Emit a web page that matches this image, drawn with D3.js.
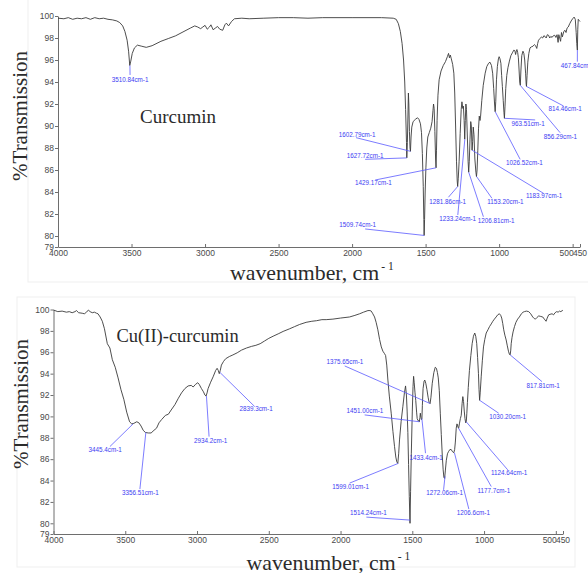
<!DOCTYPE html>
<html>
<head>
<meta charset="utf-8">
<script src="https://cdn.jsdelivr.net/npm/d3@7"></script>
<style>
  body { margin: 0; background: #fff; }
  svg { display: block; }
  .axis { color: #6e6e6e; }
  .axis .tick text { font-family: Arial, "Liberation Sans", sans-serif; font-size: 8.5px; fill: #4a4a4a; }
  .serif { font-family: "Liberation Serif", "Times New Roman", serif; fill: #2b2b2b; }
  .peak text { font-family: Arial, "Liberation Sans", sans-serif; font-size: 6.3px; fill: #3d3df2; }
</style>
</head>
<body>
<svg id="chart" width="588" height="573"></svg>
<script>
var xTicks = [4000, 3500, 3000, 2500, 2000, 1500, 1000, 500, 450];
var yTicks = [100, 98, 96, 94, 92, 90, 88, 86, 84, 82, 80, 79];

// [wavenumber, %T]
var curcuminSpectrum = [
  [4000, 99.8], [3960, 99.75], [3930, 99.85], [3900, 99.7], [3870, 99.8], [3840, 99.75],
  [3810, 99.85], [3780, 99.7], [3750, 99.85], [3720, 99.75], [3690, 99.8], [3660, 99.7],
  [3630, 99.65], [3600, 99.55], [3580, 99.4], [3560, 99.1], [3545, 98.6], [3530, 97.8],
  [3520, 96.8], [3512, 95.5], [3505, 95.9], [3495, 96.6], [3480, 97.1], [3460, 97.35],
  [3430, 97.25], [3400, 97.15], [3360, 97.3], [3300, 97.7], [3250, 97.95], [3200, 98.2],
  [3150, 98.55], [3100, 98.9], [3070, 99.1], [3050, 99.0], [3030, 98.85], [3015, 99.0],
  [3000, 99.15], [2985, 98.8], [2970, 99.0], [2960, 99.2], [2945, 98.75], [2930, 98.9],
  [2915, 99.05], [2900, 98.8], [2880, 98.7], [2865, 99.2], [2855, 99.35], [2840, 99.1],
  [2820, 99.5], [2800, 99.75], [2750, 99.8], [2700, 99.75], [2600, 99.8], [2500, 99.85],
  [2400, 99.85], [2300, 99.8], [2200, 99.85], [2000, 99.85], [1800, 99.85], [1720, 99.8],
  [1700, 99.7], [1685, 99.3], [1672, 98.6], [1660, 97.5], [1650, 96.0], [1642, 94.0],
  [1636, 91.5], [1630, 88.5], [1628, 87.1], [1624, 88.5], [1620, 91.0], [1617, 93.0],
  [1614, 92.0], [1610, 89.5], [1606, 88.0], [1603, 87.7], [1599, 89.0], [1594, 89.9],
  [1585, 90.4], [1570, 90.6], [1555, 90.75], [1545, 90.6], [1535, 90.2], [1528, 89.4],
  [1522, 87.5], [1516, 84.5], [1512, 81.5], [1510, 80.05], [1507, 81.5], [1503, 84.0],
  [1498, 86.2], [1492, 88.0], [1485, 89.0], [1475, 89.4], [1465, 89.8], [1456, 90.4],
  [1450, 91.4], [1446, 92.0], [1442, 91.6], [1437, 89.5], [1432, 87.0], [1429, 86.2],
  [1426, 87.8], [1422, 90.5], [1416, 92.8], [1408, 94.2], [1395, 95.0], [1380, 95.5],
  [1365, 95.85], [1352, 96.3], [1344, 96.6], [1338, 96.2], [1332, 96.45], [1325, 96.1],
  [1316, 95.6], [1308, 94.8], [1302, 93.0], [1296, 90.0], [1290, 86.8], [1285, 85.0],
  [1282, 84.5], [1278, 85.2], [1272, 86.8], [1265, 89.3], [1258, 91.5], [1253, 92.2],
  [1247, 91.6], [1243, 91.8], [1238, 90.5], [1234, 88.8], [1230, 90.5], [1226, 92.0],
  [1222, 91.5], [1216, 89.0], [1211, 86.8], [1207, 85.8], [1203, 86.8], [1198, 88.8],
  [1193, 90.4], [1189, 90.0], [1184, 87.8], [1180, 88.6], [1176, 89.9], [1171, 89.2],
  [1165, 87.0], [1158, 85.8], [1154, 85.4], [1150, 86.0], [1145, 87.8], [1140, 89.8],
  [1135, 90.9], [1130, 90.5], [1126, 90.9], [1118, 92.3], [1108, 93.7], [1095, 94.8],
  [1084, 95.4], [1072, 95.7], [1062, 95.8], [1052, 95.5], [1044, 94.8], [1037, 93.4],
  [1031, 92.0], [1027, 91.3], [1023, 92.2], [1018, 94.2], [1012, 95.4], [1005, 96.1],
  [1000, 96.3], [994, 96.1], [988, 95.7], [983, 94.6], [978, 93.6], [972, 92.3],
  [967, 91.2], [964, 90.7], [960, 91.8], [955, 93.4], [948, 94.6], [940, 95.3],
  [930, 95.9], [920, 96.4], [910, 96.65], [900, 96.9], [893, 96.85], [888, 96.5],
  [884, 96.75], [879, 96.95], [874, 96.7], [869, 96.2], [864, 95.0], [860, 94.0],
  [856, 93.7], [852, 95.0], [846, 96.4], [838, 96.8], [832, 96.6], [826, 96.0],
  [820, 94.8], [816, 93.8], [814, 93.6], [810, 94.6], [805, 95.8], [798, 96.6],
  [790, 97.1], [780, 97.2], [770, 97.25], [760, 97.4], [752, 97.3], [744, 97.05],
  [738, 97.5], [732, 97.8], [722, 97.95], [712, 98.1], [704, 98.0], [696, 98.2],
  [688, 98.15], [680, 98.0], [672, 98.3], [664, 98.25], [656, 98.0], [648, 98.15],
  [640, 98.05], [632, 98.2], [622, 98.25], [614, 98.05], [606, 98.3], [599, 97.6],
  [594, 98.3], [588, 98.0], [582, 97.7], [576, 98.5], [570, 98.1], [560, 98.6],
  [552, 98.7], [545, 98.5], [538, 98.9], [530, 99.0], [520, 99.3], [510, 99.55],
  [500, 99.75], [490, 99.9], [482, 99.7], [476, 98.5], [472, 97.5], [468, 96.9],
  [465, 98.8], [462, 99.7], [456, 99.6], [450, 99.5]
];

var copperSpectrum = [
  [4000, 99.95], [3970, 99.8], [3940, 99.85], [3910, 99.75], [3890, 99.8], [3870, 99.7],
  [3850, 99.8], [3840, 99.9], [3825, 99.7], [3800, 99.65], [3785, 99.6], [3770, 99.75],
  [3757, 99.95], [3745, 99.8], [3730, 99.7], [3715, 99.75], [3700, 99.65], [3690, 99.6],
  [3675, 99.3], [3660, 98.9], [3645, 98.2], [3625, 96.8], [3607, 96.4], [3590, 95.3],
  [3570, 94.6], [3550, 93.6], [3530, 92.5], [3510, 91.6], [3490, 90.4], [3470, 89.5],
  [3455, 89.3], [3440, 89.35], [3420, 89.5], [3405, 89.4], [3390, 89.1], [3375, 88.7],
  [3360, 88.5], [3340, 88.45], [3320, 88.45], [3300, 88.7], [3282, 88.9], [3265, 89.4],
  [3247, 89.7], [3220, 90.1], [3200, 90.2], [3180, 90.6], [3154, 91.1], [3130, 91.7],
  [3108, 92.2], [3085, 92.6], [3062, 92.85], [3040, 92.9], [3027, 92.75], [3010, 93.0],
  [2995, 93.15], [2985, 93.0], [2969, 92.6], [2955, 92.3], [2945, 92.0], [2937, 91.9],
  [2930, 92.2], [2923, 92.6], [2905, 93.2], [2888, 93.7], [2870, 94.3], [2860, 94.5],
  [2852, 94.3], [2845, 94.0], [2838, 94.3], [2830, 94.8], [2815, 95.15], [2800, 95.4],
  [2775, 95.6], [2750, 95.75], [2720, 95.95], [2690, 96.2], [2655, 96.4], [2620, 96.55],
  [2590, 96.65], [2560, 96.8], [2530, 97.05], [2500, 97.3], [2470, 97.5], [2430, 97.75],
  [2400, 97.95], [2354, 98.2], [2320, 98.4], [2285, 98.6], [2240, 98.8], [2200, 98.9],
  [2168, 98.95], [2130, 99.05], [2100, 99.05], [2053, 99.1], [2000, 99.2], [1937, 99.3],
  [1900, 99.45], [1867, 99.6], [1840, 99.75], [1809, 99.9], [1795, 99.9], [1786, 99.85],
  [1775, 99.6], [1763, 99.3], [1752, 98.8], [1740, 98.1], [1728, 97.2], [1716, 96.5],
  [1705, 96.1], [1695, 95.9], [1686, 95.7], [1678, 94.8], [1670, 93.4], [1660, 91.9],
  [1647, 90.3], [1635, 88.6], [1624, 87.2], [1615, 86.2], [1608, 85.75], [1601, 85.6],
  [1595, 86.5], [1589, 87.8], [1578, 89.5], [1566, 90.9], [1555, 92.2], [1547, 92.85],
  [1541, 92.0], [1536, 90.5], [1531, 88.5], [1526, 85.5], [1521, 82.5], [1516, 80.0],
  [1512, 83.0], [1507, 86.5], [1500, 90.5], [1495, 92.8], [1491, 93.75], [1487, 93.2],
  [1481, 92.2], [1476, 91.5], [1470, 90.4], [1466, 89.8], [1460, 89.6], [1455, 89.6],
  [1451, 89.5], [1447, 89.9], [1444, 90.3], [1440, 89.9], [1436, 89.7], [1433, 89.8],
  [1430, 91.0], [1425, 92.6], [1418, 93.3], [1413, 93.4], [1406, 93.1], [1398, 92.5],
  [1390, 91.8], [1383, 91.3], [1376, 91.2], [1370, 91.8], [1361, 93.1], [1350, 94.1],
  [1340, 94.6], [1332, 94.5], [1325, 94.1], [1319, 93.6], [1312, 92.4], [1305, 90.3],
  [1298, 88.3], [1291, 86.3], [1285, 85.0], [1280, 84.3], [1275, 84.2], [1270, 84.9],
  [1263, 85.9], [1255, 86.5], [1248, 86.7], [1238, 86.9], [1229, 86.9], [1220, 86.7],
  [1211, 86.6], [1205, 86.9], [1200, 87.6], [1194, 88.9], [1189, 89.3], [1185, 89.2],
  [1181, 88.95], [1177, 88.9], [1172, 89.3], [1165, 89.8], [1159, 90.1], [1153, 91.2],
  [1148, 91.85], [1143, 91.4], [1138, 90.5], [1133, 89.8], [1128, 89.4], [1124, 89.5],
  [1120, 90.3], [1116, 91.3], [1110, 92.7], [1102, 94.3], [1092, 95.7], [1083, 96.8],
  [1074, 97.5], [1065, 97.8], [1058, 97.5], [1051, 96.8], [1045, 95.5], [1039, 94.0],
  [1035, 92.5], [1031, 91.5], [1027, 92.2], [1020, 93.7], [1012, 95.2], [1004, 96.5],
  [995, 97.2], [985, 97.8], [973, 98.1], [962, 98.4], [950, 98.65], [939, 98.9],
  [928, 99.1], [916, 99.3], [905, 99.5], [893, 99.6], [884, 99.45], [877, 99.2],
  [870, 98.7], [863, 98.1], [855, 97.6], [846, 97.15], [838, 96.6], [830, 96.1],
  [823, 95.8], [818, 95.75], [814, 96.2], [811, 96.8], [805, 97.4], [798, 97.9],
  [788, 98.4], [778, 98.8], [766, 99.1], [754, 99.3], [740, 99.6], [728, 99.75],
  [719, 99.8], [705, 99.85], [689, 99.8], [675, 99.6], [661, 99.3], [650, 99.15],
  [642, 99.1], [632, 99.25], [619, 99.4], [605, 99.35], [591, 99.3], [580, 99.1],
  [568, 98.9], [560, 99.2], [550, 99.5], [540, 99.55], [526, 99.6], [516, 99.5],
  [505, 99.7], [494, 99.8], [484, 99.75], [475, 99.85], [465, 99.8], [455, 99.9], [450, 99.9]
];

// [label, peak wn, peak %T, leader end wn, leader end %T, label wn, label %T]
var curcuminPeaks = [
  ["3510.84cm-1", 3510.84, 95.5, 3510, 94.64, 3510, 94.2],
  ["1602.79cm-1", 1602.79, 87.7, 1973, 88.94, 1966, 89.2],
  ["1627.72cm-1", 1627.72, 87.1, 1911, 86.97, 1911, 87.3],
  ["1429.17cm-1", 1429.17, 86.2, 1843, 85.09, 1855, 84.8],
  ["1509.74cm-1", 1509.74, 80.05, 1911, 80.64, 1962, 81.0],
  ["1281.86cm-1", 1281.86, 84.5, 1345, 83.52, 1350, 83.1],
  ["1233.24cm-1", 1233.24, 88.8, 1281, 81.91, 1282, 81.6],
  ["1206.81cm-1", 1206.81, 85.8, 1107, 81.75, 1020, 81.4],
  ["1153.20cm-1", 1153.2, 85.4, 1049, 83.43, 957, 83.1],
  ["1183.97cm-1", 1183.97, 87.8, 698, 83.88, 694, 83.7],
  ["1026.52cm-1", 1026.52, 91.3, 857, 86.97, 828, 86.7],
  ["963.51cm-1", 963.51, 90.7, 755, 90.55, 803, 90.2],
  ["856.29cm-1", 856.29, 93.7, 585, 89.39, 583, 89.0],
  ["814.46cm-1", 814.46, 93.6, 562, 91.82, 551, 91.55],
  ["467.84cm-1", 467.84, 96.9, 468, 95.85, 468, 95.45]
];

var copperPeaks = [
  ["3445.4cm-1", 3445.4, 89.3, 3607, 87.18, 3640, 86.87],
  ["3356.51cm-1", 3356.51, 88.5, 3398, 83.2, 3395, 82.82],
  ["2934.2cm-1", 2934.2, 91.9, 2916, 88.11, 2905, 87.71],
  ["2839.3cm-1", 2839.3, 94.1, 2598, 90.92, 2589, 90.67],
  ["1375.65cm-1", 1375.65, 91.2, 1971, 94.72, 1969, 95.12],
  ["1451.00cm-1", 1451.0, 89.5, 1832, 90.14, 1830, 90.54],
  ["1433.4cm-1", 1433.4, 89.8, 1408, 86.56, 1403, 86.09],
  ["1599.01cm-1", 1599.01, 85.6, 1937, 83.76, 1930, 83.44],
  ["1514.24cm-1", 1514.24, 80.3, 1820, 80.58, 1806, 80.95],
  ["1272.06cm-1", 1272.06, 84.4, 1282, 83.13, 1275, 82.82],
  ["1206.6cm-1", 1206.6, 86.6, 1106, 81.33, 1075, 80.95],
  ["1177.7cm-1", 1177.7, 88.9, 950, 83.44, 932, 83.07],
  ["1124.64cm-1", 1124.64, 89.5, 835, 85.0, 825, 84.69],
  ["1030.20cm-1", 1030.2, 91.5, 898, 90.3, 835, 89.93],
  ["817.81cm-1", 817.81, 95.75, 596, 93.25, 588, 92.85]
];

var svg = d3.select("#chart");

function drawPanel(p) {
  var x = d3.scaleLinear().domain([4000, 450]).range([p.left, p.right]);
  var y = d3.scaleLinear().domain([79, 100]).range([p.bottom, p.top]);
  var g = svg.append("g");

  // faint frame round the scanned panel
  g.append("rect")
   .attr("x", p.frame[0]).attr("y", p.frame[1])
   .attr("width", p.frame[2]).attr("height", p.frame[3])
   .attr("fill", "none").attr("stroke", "#efefef");

  var xAxis = g.append("g")
               .attr("class", "axis")
               .attr("transform", "translate(0," + p.bottom + ")")
               .call(d3.axisBottom(x).tickValues(xTicks).tickSize(-3).tickSizeOuter(0)
                       .tickPadding(3).tickFormat(d3.format("d")));
  xAxis.selectAll(".tick text")
       .filter(function(d) { return d == 500; })
       .attr("text-anchor", "end").attr("x", 0.5);
  xAxis.selectAll(".tick text")
       .filter(function(d) { return d == 450; })
       .attr("x", -0.5);

  g.append("g")
   .attr("class", "axis")
   .attr("transform", "translate(" + p.left + ",0)")
   .call(d3.axisLeft(y).tickValues(yTicks).tickSize(3).tickSizeOuter(0).tickPadding(1));

  g.selectAll(".axis").attr("font-size", null).attr("font-family", null);

  var line = d3.line()
               .x(function(d) { return x(d[0]); })
               .y(function(d) { return y(d[1]); });

  g.append("path")
   .datum(p.spectrum)
   .attr("d", line)
   .attr("fill", "none")
   .attr("stroke", "#3a3a3a")
   .attr("stroke-width", 0.9)
   .attr("stroke-linejoin", "round");

  var peak = g.selectAll("g.peak")
              .data(p.peaks)
              .enter().append("g")
              .attr("class", "peak");

  peak.append("line")
      .attr("x1", function(d) { return x(d[1]); })
      .attr("y1", function(d) { return y(d[2]); })
      .attr("x2", function(d) { return x(d[3]); })
      .attr("y2", function(d) { return y(d[4]); })
      .attr("stroke", "#5a5aff")
      .attr("stroke-width", 0.8);

  peak.append("text")
      .attr("x", function(d) { return x(d[5]); })
      .attr("y", function(d) { return y(d[6]); })
      .attr("dy", "0.35em")
      .attr("text-anchor", "middle")
      .text(function(d) { return d[0]; });

  g.append("text")
   .attr("class", "serif")
   .attr("x", p.titleX).attr("y", p.titleY)
   .attr("font-size", p.titleSize)
   .text(p.title);

  g.append("text")
   .attr("class", "serif")
   .attr("transform", "translate(" + p.yLabelX + "," + p.yLabelY + ") rotate(-90)")
   .attr("text-anchor", "middle")
   .attr("font-size", 21)
   .text("%Transmission");

  var xl = g.append("text")
            .attr("class", "serif")
            .attr("x", p.xLabelX).attr("y", p.xLabelY)
            .attr("font-size", 21.8);
  xl.append("tspan").text("wavenumber, cm");
  xl.append("tspan").attr("dx", 2).attr("dy", -10).attr("font-size", 11.5).text("- 1");
}

drawPanel({
  left: 58, right: 580, top: 16, bottom: 247,
  frame: [28, -2, 562, 284],
  spectrum: curcuminSpectrum, peaks: curcuminPeaks,
  title: "Curcumin", titleX: 140, titleY: 122.5, titleSize: 19,
  yLabelX: 27, yLabelY: 116,
  xLabelX: 230, xLabelY: 279.5
});

drawPanel({
  left: 53.5, right: 563, top: 309.5, bottom: 534,
  frame: [17, 297, 558, 270],
  spectrum: copperSpectrum, peaks: copperPeaks,
  title: "Cu(II)-curcumin", titleX: 116.5, titleY: 341.5, titleSize: 18.5,
  yLabelX: 27.5, yLabelY: 404,
  xLabelX: 246.5, xLabelY: 570
});
</script>
</body>
</html>
